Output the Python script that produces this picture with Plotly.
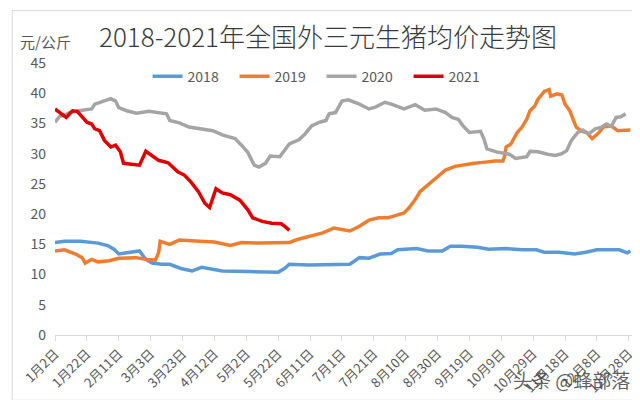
import plotly.graph_objects as go

# Day offsets from 1月2日 and price (元/公斤)
d18 = [0, 6, 16, 27, 33, 37, 40, 46, 53, 57, 61, 67, 72, 79, 86, 92, 98, 105, 121, 131,
       140, 144, 147, 159, 171, 185, 191, 197, 204, 211, 215, 227, 234, 243, 248, 255, 265, 272, 283, 293,
       302, 307, 316, 326, 333, 340, 349, 354, 359, 361]
v18 = [15.3, 15.5, 15.5, 15.2, 14.8, 14.2, 13.4, 13.6, 13.9, 12.5, 11.9, 11.7, 11.7, 11.0, 10.6, 11.2, 10.9, 10.6, 10.5, 10.4,
       10.4, 11.0, 11.7, 11.6, 11.7, 11.7, 12.8, 12.7, 13.4, 13.5, 14.1, 14.3, 13.9, 13.9, 14.7, 14.7, 14.5, 14.2, 14.3, 14.1,
       14.1, 13.7, 13.7, 13.4, 13.7, 14.1, 14.1, 14.1, 13.6, 13.9]

d19 = [0, 6, 13, 17, 19, 23, 27, 34, 40, 51, 58, 63, 65, 66, 72, 78, 91, 100, 110, 117,
       128, 138, 147, 152, 161, 168, 175, 185, 191, 197, 203, 209, 213, 219, 222, 226, 229, 234, 240, 245,
       251, 257, 263, 270, 276, 281, 282, 283, 286, 290, 293, 296, 298, 301, 303, 307, 310, 311, 315, 318,
       320, 323, 325, 327, 330, 334, 337, 341, 344, 349, 353, 361]
v19 = [13.9, 14.1, 13.4, 12.8, 11.9, 12.5, 12.1, 12.3, 12.7, 12.8, 12.5, 12.4, 13.6, 15.5, 15.0, 15.7, 15.5, 15.4, 14.8, 15.3,
       15.2, 15.2, 15.3, 15.8, 16.4, 16.9, 17.7, 17.2, 18.0, 19.0, 19.4, 19.4, 19.7, 20.2, 21.0, 22.4, 23.7, 24.8, 26.2, 27.3,
       27.9, 28.2, 28.4, 28.6, 28.8, 28.8, 29.5, 31.1, 31.6, 33.5, 34.4, 35.7, 37.1, 37.9, 39.0, 40.3, 40.6, 39.5, 39.9, 39.7,
       38.2, 37.1, 35.7, 34.4, 33.8, 33.4, 32.5, 33.4, 34.4, 34.6, 33.8, 33.9]

d20 = [0, 3, 6, 9, 17, 23, 25, 30, 35, 38, 40, 45, 51, 59, 70, 72, 78, 84, 91, 99,
       105, 113, 117, 121, 125, 128, 132, 135, 141, 147, 153, 157, 161, 166, 170, 172, 176, 180, 184, 191,
       197, 201, 207, 211, 219, 226, 232, 239, 245, 249, 253, 256, 260, 267, 269, 271, 277, 282, 285, 289,
       296, 298, 303, 309, 314, 318, 321, 324, 328, 331, 335, 339, 343, 346, 349, 352, 355, 358]
v20 = [35.2, 36.2, 36.4, 36.8, 37.2, 37.4, 38.2, 38.7, 39.1, 38.7, 37.6, 37.1, 36.7, 37.0, 36.6, 35.5, 35.1, 34.4, 34.1, 33.8,
       33.1, 32.5, 31.4, 30.2, 28.1, 27.8, 28.4, 29.6, 29.5, 31.6, 32.3, 33.3, 34.6, 35.2, 35.5, 36.6, 36.8, 38.7, 38.9, 38.2,
       37.4, 37.7, 38.5, 38.2, 37.4, 38.1, 37.2, 37.4, 36.8, 36.0, 35.7, 34.6, 33.5, 33.7, 32.5, 30.8, 30.3, 30.1, 29.9, 29.2,
       29.5, 30.4, 30.3, 29.9, 29.7, 30.0, 30.5, 32.2, 33.5, 33.9, 33.3, 34.1, 34.4, 34.9, 34.5, 36.0, 36.1, 36.6]

d21 = [0, 7, 11, 14, 20, 23, 25, 28, 31, 35, 38, 41, 43, 53, 57, 65, 71, 74, 77, 81,
       85, 90, 94, 97, 101, 105, 110, 116, 121, 124, 130, 136, 142, 144, 147]
v21 = [37.4, 36.0, 37.1, 37.0, 35.2, 34.9, 34.1, 33.8, 32.2, 31.1, 31.4, 30.3, 28.4, 28.1, 30.4, 28.9, 28.5, 27.8, 27.0, 26.5,
       25.4, 23.7, 21.8, 21.1, 24.2, 23.5, 23.2, 22.3, 20.7, 19.4, 18.8, 18.5, 18.4, 18.0, 17.3]

tick_days = [0, 20, 40, 60, 80, 100, 120, 140, 160, 180, 200, 220, 240, 260, 280, 300, 320, 340, 360]
tick_labels = ["1月2日", "1月22日", "2月11日", "3月3日", "3月23日", "4月12日", "5月2日", "5月22日",
               "6月11日", "7月1日", "7月21日", "8月10日", "8月30日", "9月19日", "10月9日", "10月29日",
               "11月18日", "12月8日", "12月28日"]

series = [("2018", d18, v18, "#5B9BD5"), ("2019", d19, v19, "#ED7D31"),
          ("2020", d20, v20, "#A5A5A5"), ("2021", d21, v21, "#DD0000")]

FONT = "Noto Sans CJK SC"
fig = go.Figure()
for name, d, v, c in series:
    fig.add_trace(go.Scatter(x=d, y=v, name=name, mode="lines",
                             line=dict(color=c, width=3.5)))

fig.update_layout(
    width=640, height=400,
    margin=dict(l=45, r=15, t=55, b=70),
    paper_bgcolor="white", plot_bgcolor="white",
    font=dict(family=FONT, color="#595959"),
    title=dict(text="2018-2021年全国外三元生猪均价走势图", x=0.5, xanchor="center",
               y=0.925, yanchor="middle",
               font=dict(family=FONT, size=26, color="#3a3a3a", weight=300)),
    showlegend=True,
    legend=dict(orientation="h", x=0.462, xanchor="center", y=0.95, yanchor="middle",
                font=dict(family=FONT, size=14, color="#595959"),
                entrywidth=42, entrywidthmode="pixels", bgcolor="rgba(0,0,0,0)"),
    xaxis=dict(range=[0, 362], tickmode="array", tickvals=tick_days, ticktext=tick_labels,
               tickangle=-45, ticks="outside", ticklen=5, tickcolor="#d9d9d9",
               showline=True, linecolor="#d9d9d9", linewidth=1, showgrid=False, zeroline=False,
               tickfont=dict(family=FONT, size=13, color="#595959")),
    yaxis=dict(range=[0, 45], tickvals=[0, 5, 10, 15, 20, 25, 30, 35, 40, 45],
               showgrid=False, zeroline=False, showline=False, ticklabelstandoff=8,
               tickfont=dict(family=FONT, size=14, color="#595959")),
    annotations=[
        dict(text="元/公斤", xref="paper", yref="paper", x=-0.064, y=1.08, xanchor="left", yanchor="middle",
             showarrow=False, font=dict(family=FONT, size=15, color="#595959")),
        dict(text="头条 @蜂部落", xref="paper", yref="paper", x=1.0, y=-0.165, xanchor="right", yanchor="middle",
             showarrow=False, font=dict(family=FONT, size=19, color="rgba(70,70,70,0.85)")),
    ],
    shapes=[dict(type="rect", xref="paper", yref="paper",
                 x0=-43/580, x1=1+12/580, y0=-66/275, y1=1+53/275,
                 line=dict(color="#d9d9d9", width=1))],
)

fig.write_html("out.html")
